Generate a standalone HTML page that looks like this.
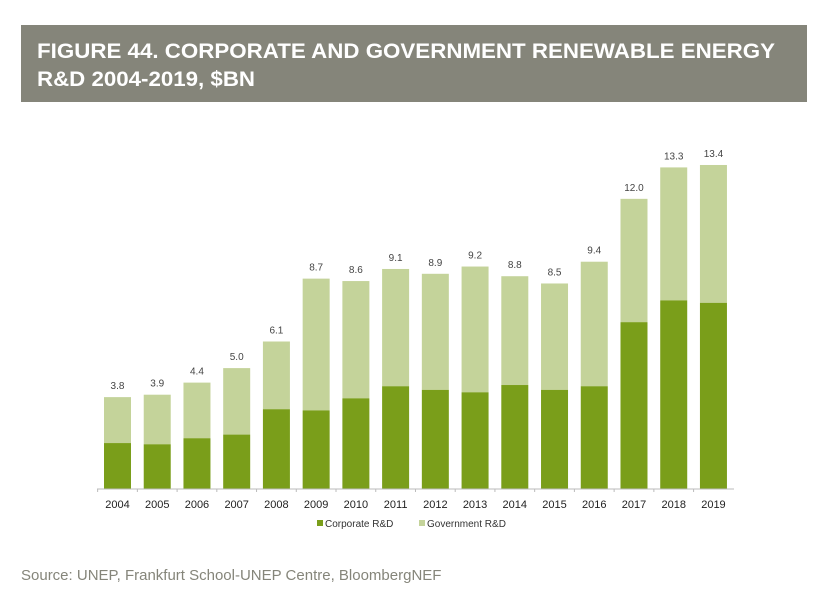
<!DOCTYPE html>
<html><head><meta charset="utf-8"><style>
body{margin:0;width:818px;height:596px;background:#fff;overflow:hidden;font-family:"Liberation Sans",sans-serif}
</style></head><body>
<svg width="818" height="596">
<rect x="21" y="25" width="786" height="77" fill="#85857a"/>
<text x="37" y="58" fill="#fff" font-weight="bold" font-size="21" textLength="738" lengthAdjust="spacingAndGlyphs">FIGURE 44. CORPORATE AND GOVERNMENT RENEWABLE ENERGY</text>
<text x="37" y="86" fill="#fff" font-weight="bold" font-size="21" textLength="218" lengthAdjust="spacingAndGlyphs">R&amp;D 2004-2019, $BN</text>
<g id="plot"></g>
<line x1="97" y1="489" x2="734" y2="489" stroke="#bbb" stroke-width="1"/>
<rect x="317" y="520" width="6" height="6" fill="#7a9e1a"/>
<text x="325" y="527" font-size="10" fill="#333">Corporate R&amp;D</text>
<rect x="419" y="520" width="6" height="6" fill="#c4d39a"/>
<text x="427" y="527" font-size="10" fill="#333">Government R&amp;D</text>
<text x="21" y="580" font-size="15" fill="#85857a">Source: UNEP, Frankfurt School-UNEP Centre, BloombergNEF</text>
</svg>
<script>
const years=["2004","2005","2006","2007","2008","2009","2010","2011","2012","2013","2014","2015","2016","2017","2018","2019"];
const totals=[3.8,3.9,4.4,5.0,6.1,8.7,8.6,9.1,8.9,9.2,8.8,8.5,9.4,12.0,13.3,13.4];
const corporate=[1.9,1.85,2.1,2.25,3.3,3.25,3.75,4.25,4.1,4.0,4.3,4.1,4.25,6.9,7.8,7.7];
const ns="http://www.w3.org/2000/svg";
const g=document.getElementById('plot');
const base=489, pxPer=24.18, x0=117.5, step=39.73, bw=27;
const X=i=>x0+i*step, Y=v=>base-v*pxPer;
function mk(t,a){const e=document.createElementNS(ns,t);for(const k in a)e.setAttribute(k,a[k]);g.appendChild(e);return e;}
years.forEach((yr,i)=>{
  const gov=mk('rect',{x:X(i)-bw/2,y:Y(totals[i]),width:bw,height:Y(corporate[i])-Y(totals[i]),fill:'#c4d39a'});
  
  
  const c=mk('rect',{x:X(i)-bw/2,y:Y(corporate[i]),width:bw,height:base-Y(corporate[i]),fill:'#7a9e1a'});
  
  
  const l=mk('text',{x:X(i),y:Y(totals[i])-8,'text-anchor':'middle','font-size':'10',fill:'#444'});
  l.textContent=totals[i].toFixed(1);
  
  
  const t=mk('text',{x:X(i),y:508,'text-anchor':'middle','font-size':'11',fill:'#222'});
  t.textContent=yr;
  
  
  const tk=mk('line',{x1:X(i)-step/2,y1:base,x2:X(i)-step/2,y2:base+3,stroke:'#bbb'});
  
  
});
</script>
</body></html>
